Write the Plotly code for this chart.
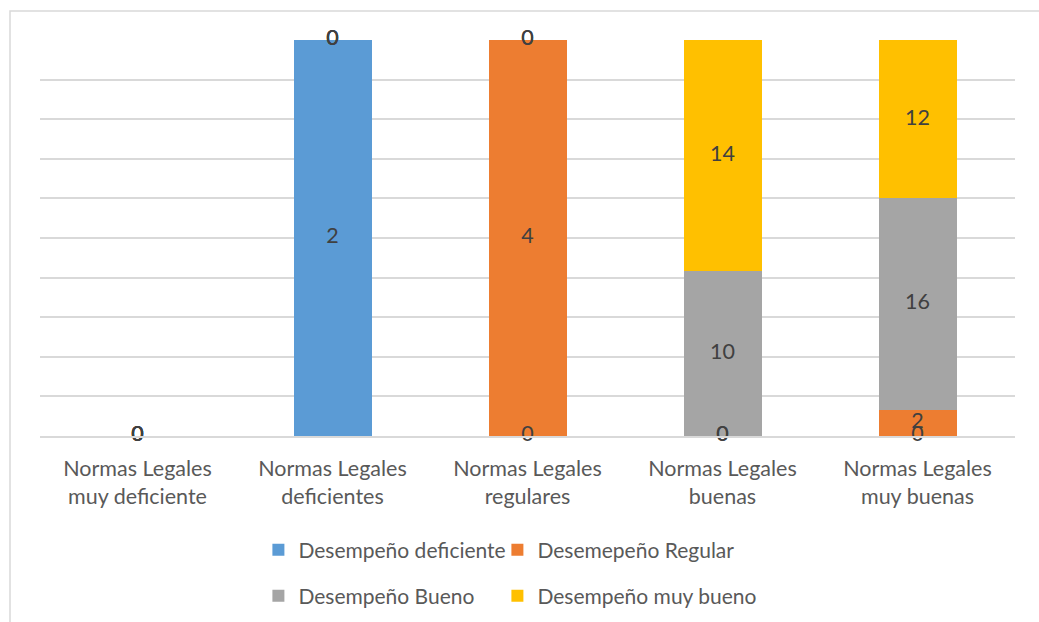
import plotly.graph_objects as go

categories = ["Normas Legales<br>muy deficiente", "Normas Legales<br>deficientes",
              "Normas Legales<br>regulares", "Normas Legales<br>buenas",
              "Normas Legales<br>muy buenas"]
series_names = ["Desempeño deficiente", "Desemepeño Regular",
                "Desempeño Bueno", "Desempeño muy bueno"]
deficiente = [0, 2, 0, 0, 0]
regular = [0, 0, 4, 0, 2]
bueno = [0, 0, 0, 10, 16]
muy_bueno = [0, 0, 0, 14, 12]
colors = ["#5b9bd5", "#ed7d31", "#a5a5a5", "#ffc000"]

series = [deficiente, regular, bueno, muy_bueno]
FONT = "Lato"
FS = 21.5
LFS = 21

fig = go.Figure()
legends = ["legend", "legend", "legend2", "legend2"]
widths = [194, 260, 194, 260]
for name, vals, col, lg, w in zip(series_names, series, colors, legends, widths):
    fig.add_trace(go.Bar(x=categories, y=vals, name=name, marker_color=col,
                         marker_line_width=0, legend=lg, legendwidth=w,
                         hoverinfo="x+y+name"))

# data labels at segment centres (percent-normalised stack)
lx, ly, lt = [], [], []
for i, c in enumerate(categories):
    total = sum(s[i] for s in series)
    cum = 0.0
    for s in series:
        pct = s[i] / total * 100 if total else 0.0
        lx.append(c)
        ly.append(cum + pct / 2)
        lt.append(str(s[i]))
        cum += pct
fig.add_trace(go.Scatter(x=lx, y=ly, text=lt, mode="text", showlegend=False,
                         textfont=dict(family=FONT, size=FS, color="#404040"),
                         cliponaxis=False, hoverinfo="skip"))

fig.update_layout(
    width=1039, height=622,
    barmode="stack", barnorm="percent", bargap=0.6,
    margin=dict(l=40, r=24, t=40, b=186, autoexpand=False),
    paper_bgcolor="white", plot_bgcolor="white",
    font=dict(family=FONT, size=FS, color="#595959"),
    xaxis=dict(showgrid=False, showline=True, linecolor="#d9d9d9", linewidth=1.5,
               ticks="", ticklabelstandoff=12, tickfont=dict(size=FS, color="#595959")),
    yaxis=dict(range=[0, 100], dtick=10, showticklabels=False, showgrid=True,
               gridcolor="#d9d9d9", gridwidth=1.5, zeroline=False, ticks=""),
    legend=dict(orientation="h", x=0.224, xanchor="left", y=-0.288, yanchor="middle",
                font=dict(size=LFS, color="#595959"), traceorder="normal"),
    legend2=dict(orientation="h", x=0.224, xanchor="left", y=-0.404, yanchor="middle",
                 font=dict(size=LFS, color="#595959"), traceorder="normal"),
    shapes=[dict(type="rect", xref="paper", yref="paper",
                 x0=(10 - 40) / 975, x1=1.2, y0=-0.6, y1=(436 - 11) / 396,
                 line=dict(color="#d9d9d9", width=1.5), fillcolor="rgba(0,0,0,0)")],
)

fig.write_html("out.html")
